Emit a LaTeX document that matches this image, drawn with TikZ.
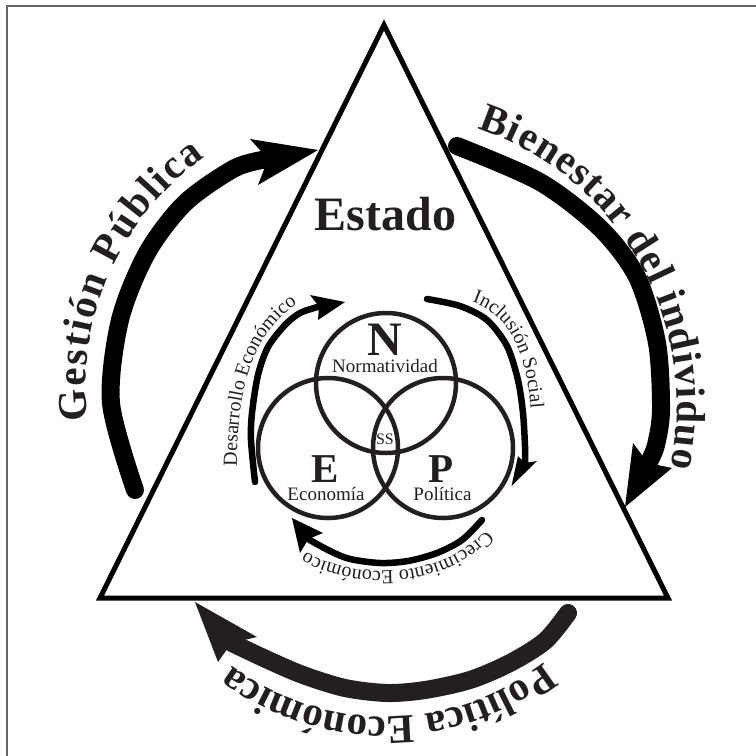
\documentclass[tikz,border=0pt]{standalone}
\usepackage{fontspec}
\setmainfont{Liberation Serif}
\usetikzlibrary{decorations.text}
\definecolor{ink}{HTML}{231F20}
\newcommand\arcbig{\fontsize{41}{41}\selectfont\bfseries}
\newcommand\arcsmall{\fontsize{20}{20}\selectfont}
\begin{document}
\begin{tikzpicture}[x=1pt,y=-1pt,
  frame/.style={draw=black!60, line width=1.2pt},
  tri/.style={draw=black, line width=5pt, line join=miter},
  ring/.style={draw=ink, line width=4.5pt},
  bigbody/.style={draw=black, line width=18pt, line cap=round},
  smallbody/.style={draw=black, line width=6.5pt, line cap=round},
  head/.style={fill=black},
  bigletter/.style={font=\fontsize{41}{41}\selectfont\bfseries, text=ink, inner sep=0pt},
  smalllabel/.style={font=\fontsize{19}{19}\selectfont, text=ink, inner sep=0pt},
  arctext/.style={decorate, decoration={text along path, text color=ink, #1}},
]
\useasboundingbox (0,0) rectangle (756,756);
\draw[frame] (7,760) -- (7,6) -- (760,6);

% triangle
\coordinate (apex) at (384,25);
\coordinate (bl) at (100,598);
\coordinate (br) at (668,598);
\draw[tri] (apex) -- (br) -- (bl) -- cycle;

% circles
\coordinate (cN) at (386,383);
\coordinate (cE) at (328,448);
\coordinate (cP) at (443,448);
\draw[ring] (cN) circle[radius=70];
\draw[ring] (cE) circle[radius=70];
\draw[ring] (cP) circle[radius=70];

% labels
\node[font=\fontsize{48}{48}\selectfont\bfseries, text=ink, inner sep=0pt, anchor=base] (estado) at (385.5,230) {Estado};
\node[bigletter, font=\fontsize{48}{48}\selectfont\bfseries, anchor=base] (N) at (384.5,355) {N};
\node[smalllabel, anchor=base] (norm) at (385,372) {Normatividad};
\node[font=\fontsize{16}{16}\selectfont, text=ink, inner sep=0pt, anchor=base] (ss) at (385,444) {SS};
\node[bigletter, anchor=base] (E) at (325.5,482) {E};
\node[smalllabel, anchor=base] (econ) at (326,500) {Economía};
\node[bigletter, anchor=base] (P) at (441.5,482) {P};
\node[smalllabel, anchor=base] (pol) at (442.5,500) {Política};

% outer arrows
\draw[bigbody] plot[smooth] coordinates {(135,490) (111,403) (120,320) (147,253) (185,203) (235,168) (268,159)};
\fill[head] (318,150) -- (250,139) -- (268,159) -- (258,185) -- cycle;

\draw[bigbody] plot[smooth] coordinates {(457,146) (540,182) (600,228) (637,277) (657,343) (661,410) (656,445) (649,462)};
\fill[head] (625,507) -- (633,443) -- (648,463) -- (672,468) -- cycle;

\draw[bigbody, draw=ink] plot[smooth] coordinates {(568,613) (545,641) (510,663) (470,680) (425,690) (387,693) (345,688) (303,675) (268,660) (232,643)};
\fill[ink] (195,602) -- (257,637) -- (231.5,643) -- (218,662) -- cycle;

% inner arrows
\draw[smallbody] plot[smooth] coordinates {(255,482) (251,440) (252,413) (258,375) (268,347) (285,325) (300,313) (319,306.6)};
\fill[head] (345,302) -- (310,295) -- (319,306.6) -- (318,320) -- cycle;

\draw[smallbody] plot[smooth] coordinates {(427,299) (460,306) (487,320) (507,346) (518,380) (523,413) (525,446) (525,463)};
\fill[head] (511.5,486) -- (518,456) -- (525,463) -- (537,461) -- cycle;

\draw[smallbody] plot[smooth] coordinates {(482,520) (462,540) (437,553) (408,561) (380,563) (350,559) (330,551) (308,539)};
\fill[head] (292,518) -- (323,533) -- (308.4,539) -- (300,553) -- cycle;

% outer curved texts
\path[arctext={text={|\arcbig|Gestión Pública}, text align=fit to path}]
  ([shift={(173:279)}]365,386) arc[start angle=173, end angle=235, radius=279];
\path[arctext={text={|\arcbig|Bienestar del individuo}, text align=fit to path}]
  ([shift={(288.3:291)}]386,405) arc[start angle=288.3, end angle=372.4, radius=291];
\path[arctext={text={|\arcbig|Política Económica}, text align=center}]
  ([shift={(51.8:257)}]386,460) arc[start angle=51.8, end angle=127.2, radius=257];

% inner curved texts
\path[arctext={text={|\arcsmall|Desarrollo Económico}, text align=left}]
  (237,466) .. controls (237,380) and (255,320) .. (318,293);
\path[arctext={text={|\arcsmall|Inclusión Social}, text align=left}]
  (472,302) .. controls (507,314) and (530,350) .. (532,430);
\path[arctext={text={|\arcsmall|Crecimiento Económico}, text align=left}]
  (486,530) .. controls (440,584) and (330,584) .. (285,535);
\end{tikzpicture}
\end{document}
